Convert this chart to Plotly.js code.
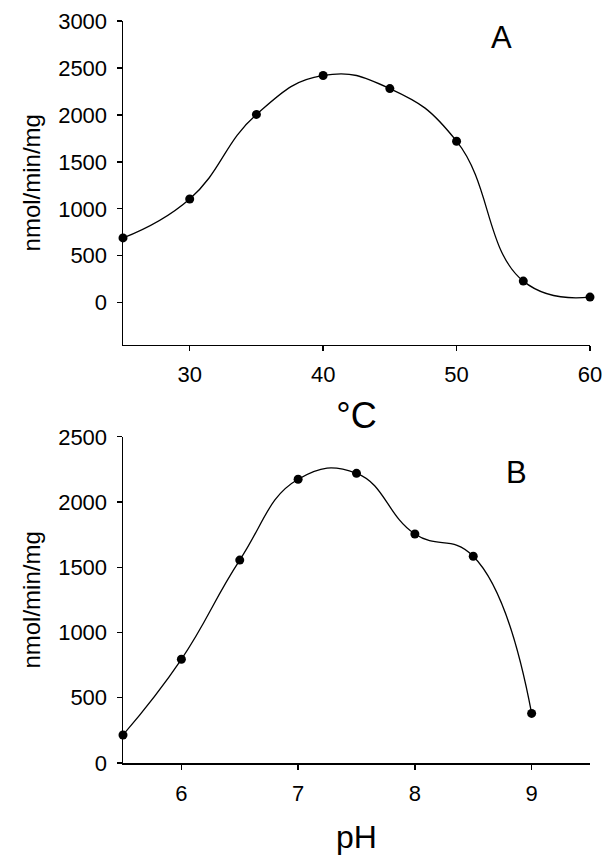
<!DOCTYPE html>
<html>
<head>
<meta charset="utf-8">
<script src="https://cdn.plot.ly/plotly-3.0.1.min.js"></script>
<style>html,body{margin:0;padding:0;background:#fff;}#chart{width:612px;height:861px;}</style>
</head>
<body>
<div id="chart"></div>
<script>
// Panel A: temperature profile
const tempC = [25, 30, 35, 40, 45, 50, 55, 60];
const activityTemp = [690, 1105, 2005, 2420, 2280, 1720, 230, 60];
// Panel B: pH profile
const pH = [5.5, 6, 6.5, 7, 7.5, 8, 8.5, 9];
const activityPH = [215, 795, 1555, 2175, 2220, 1755, 1585, 380];

const tempTicks = [30, 40, 50, 60];
const tempYTicks = [0, 500, 1000, 1500, 2000, 2500, 3000];
const pHTicks = [6, 7, 8, 9];
const pHYTicks = [0, 500, 1000, 1500, 2000, 2500];

const FONT = 'Liberation Sans, Arial, sans-serif';

const lineStyle = {color: '#000', width: 1.3, shape: 'spline', smoothing: 1.3};
const markerStyle = {color: '#000', size: 9};

const traces = [
  {x: tempC, y: activityTemp, xaxis: 'x', yaxis: 'y', mode: 'lines+markers',
   line: lineStyle, marker: markerStyle, cliponaxis: false},
  {x: pH, y: activityPH, xaxis: 'x2', yaxis: 'y2', mode: 'lines+markers',
   line: lineStyle, marker: markerStyle, cliponaxis: false}
];

const axisCommon = {
  showline: true, linecolor: '#000', linewidth: 1.5, mirror: false,
  showgrid: false, zeroline: false, ticks: 'outside', ticklen: 5, tickwidth: 1.3,
  tickcolor: '#000', tickfont: {family: FONT, size: 22, color: '#000'}
};

const layout = {
  width: 612, height: 861,
  margin: {l: 123, r: 22, t: 21, b: 98},
  paper_bgcolor: '#fff', plot_bgcolor: '#fff',
  showlegend: false,
  font: {family: FONT, color: '#000'},
  xaxis: Object.assign({}, axisCommon, {
    domain: [0, 1], anchor: 'y', range: [25, 60], tickvals: tempTicks,
    ticklabelstandoff: 5,
    title: {text: '°C', font: {family: FONT, size: 36, color: '#000'}, standoff: 16}
  }),
  yaxis: Object.assign({}, axisCommon, {
    domain: [0.564, 1], anchor: 'x', range: [-445, 3000], tickvals: tempYTicks,
    ticklabelstandoff: 5,
    title: {text: 'nmol/min/mg', font: {family: FONT, size: 24, color: '#000'}, standoff: 10}
  }),
  xaxis2: Object.assign({}, axisCommon, {
    domain: [0, 1], anchor: 'y2', range: [5.5, 9.5], tickvals: pHTicks,
    ticklabelstandoff: 5,
    title: {text: 'pH', font: {family: FONT, size: 32, color: '#000'}, standoff: 20}
  }),
  yaxis2: Object.assign({}, axisCommon, {
    domain: [0, 0.4396], anchor: 'x2', range: [0, 2500], tickvals: pHYTicks,
    ticklabelstandoff: 5,
    title: {text: 'nmol/min/mg', font: {family: FONT, size: 24, color: '#000'}, standoff: 10}
  }),
  annotations: [
    {text: 'A', xref: 'x', yref: 'y', x: 53.4, y: 2820, showarrow: false,
     font: {family: FONT, size: 31, color: '#000'}},
    {text: 'B', xref: 'x2', yref: 'y2', x: 8.87, y: 2230, showarrow: false,
     font: {family: FONT, size: 31, color: '#000'}}
  ]
};

Plotly.newPlot('chart', traces, layout, {staticPlot: true, displayModeBar: false});
</script>
</body>
</html>
